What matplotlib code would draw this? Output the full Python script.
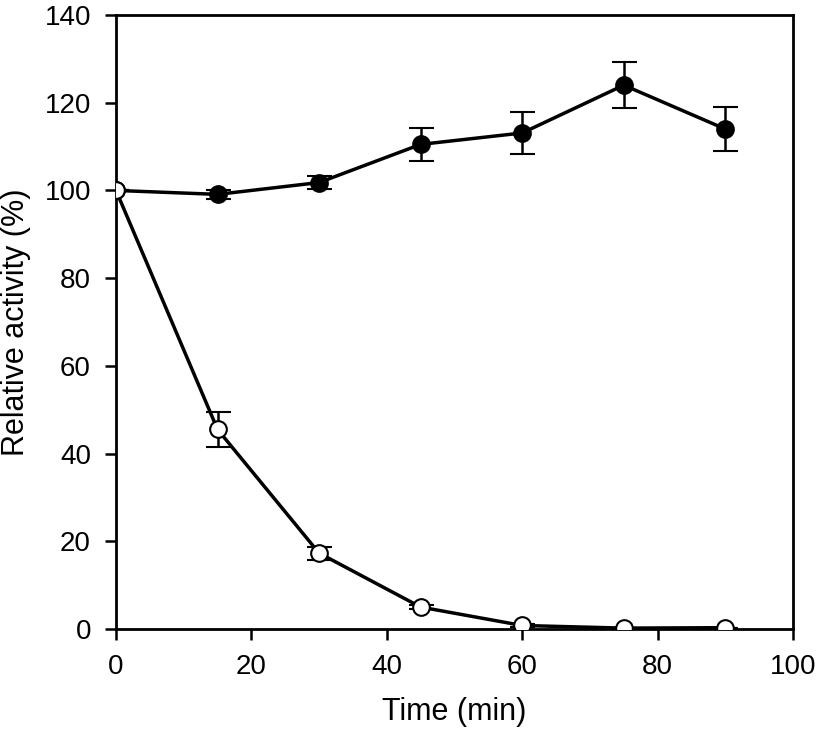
import numpy as np
import matplotlib.pyplot as plt

plt.rcParams['font.family'] = ['Liberation Sans', 'DejaVu Sans']

time_min = [0, 15, 30, 45, 60, 75, 90]

# filled circles
filled_vals = [100, 99.1, 101.8, 110.5, 113.1, 124.0, 114.0]
filled_err = [0, 1.0, 1.5, 3.7, 4.8, 5.3, 5.0]

# open circles
open_vals = [100, 45.5, 17.3, 5.0, 0.8, 0.2, 0.3]
open_err = [0, 4.0, 1.5, 0.5, 0.3, 0, 0]

fig = plt.figure(figsize=(8.2, 7.32), dpi=100)
ax = fig.add_axes([116 / 820, 1 - 629 / 732, (793 - 116) / 820, (629 - 15) / 732])

ax.errorbar(time_min, filled_vals, yerr=filled_err, color='black', lw=2.5,
            marker='o', markersize=12, markerfacecolor='black',
            markeredgecolor='black', markeredgewidth=1.5,
            ecolor='black', elinewidth=1.8, capsize=9, capthick=1.8, zorder=3)
ax.errorbar(time_min, open_vals, yerr=open_err, color='black', lw=2.5,
            marker='o', markersize=12, markerfacecolor='white',
            markeredgecolor='black', markeredgewidth=1.5,
            ecolor='black', elinewidth=1.8, capsize=9, capthick=1.8, zorder=3)

ax.set_xlim(0, 100)
ax.set_ylim(0, 140)
ax.set_xticks(np.arange(0, 101, 20))
ax.set_yticks(np.arange(0, 141, 20))

for s in ax.spines.values():
    s.set_linewidth(2)
ax.tick_params(direction='out', length=8, width=1.8, labelsize=20,
               top=False, right=False, pad=10)

ax.set_xlabel('Time (min)', fontsize=22, labelpad=12)
ax.set_ylabel('Relative activity (%)', fontsize=22, labelpad=10)

fig.savefig('out.png', dpi=100)
